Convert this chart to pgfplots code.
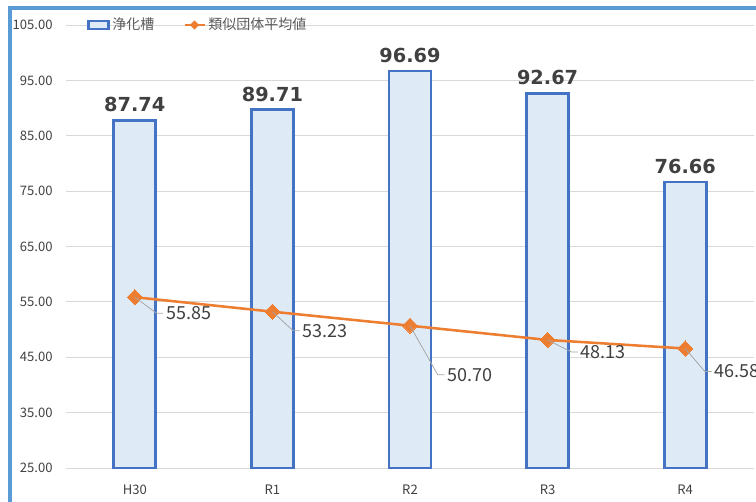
\documentclass[border=0pt]{standalone}
\usepackage{fontspec}
\setmainfont{Noto Sans CJK JP}
\newfontfamily\numfont{DejaVu Sans}
\usepackage{pgfplots}
\pgfplotsset{compat=1.18}

\definecolor{barblue}{HTML}{4472C4}
\definecolor{barfill}{HTML}{DEEBF7}
\definecolor{lineorange}{HTML}{ED7D31}
\definecolor{gridgray}{HTML}{D9D9D9}
\definecolor{framecol}{HTML}{5B9BD5}
\definecolor{labgray}{HTML}{404040}
\definecolor{leggray}{HTML}{595959}
\definecolor{leadgray}{HTML}{A6A6A6}

% data label with leader line: x, y, dx, dy, text
\newcommand{\lbl}[5]{%
  \draw[leadgray, line width=0.6pt] (axis cs:#1,#2) -- ([xshift=#3-7pt, yshift=#4]axis cs:#1,#2)
    -- ([xshift=#3-2pt, yshift=#4]axis cs:#1,#2);
  \node[anchor=west, inner sep=0pt, text=labgray, font=\fontsize{13.5}{15}\selectfont]
    at ([xshift=#3, yshift=#4]axis cs:#1,#2) {#5};
}

\begin{document}
\begin{tikzpicture}
\useasboundingbox (0,0) rectangle (567pt,375.75pt);
\clip (0,0) rectangle (567pt,375.75pt);
\begin{axis}[
  scale only axis,
  width=516pt, height=332.25pt,
  at={(49.5pt,24.75pt)}, anchor=south west,
  xmin=-0.5, xmax=4.5, ymin=25, ymax=105,
  xtick={0,1,2,3,4}, xticklabels={H30,R1,R2,R3,R4},
  ytick={25,35,45,55,65,75,85,95,105},
  yticklabel style={/pgf/number format/fixed, /pgf/number format/fixed zerofill,
    /pgf/number format/precision=2},
  /pgf/number format/assume math mode=true,
  tick label style={font=\fontsize{9.8}{11}\selectfont, text=labgray},
  xticklabel style={yshift=-9pt},
  yticklabel style={xshift=-6.5pt},
  ymajorgrids, grid style={gridgray, line width=0.75pt},
  axis line style={draw=none},
  major tick length=0pt,
  clip mode=individual,
  legend columns=2,
  legend style={at={(0.025,1)}, anchor=west, draw=none, fill=none,
    font=\fontsize{10.5}{12}\selectfont, text=leggray,
    /tikz/every even column/.append style={column sep=20pt}},
]
  \addplot[ybar, bar width=31.5pt, draw=barblue, fill=barfill, line width=2.1pt,
    point meta=explicit symbolic, nodes near coords,
    nodes near coords style={font=\numfont\bfseries\fontsize{14.5}{16}\selectfont,
      text=labgray, anchor=base, yshift=6.5pt},
    legend image code/.code={\draw[draw=barblue, fill=barfill, line width=1.6pt]
      (0pt,-3pt) rectangle (15pt,3pt);}]
  coordinates {
    (0,87.74) [87.74]
    (1,89.71) [89.71]
    (2,96.69) [96.69]
    (3,92.67) [92.67]
    (4,76.66) [76.66]
  };
  \addlegendentry{浄化槽}

  \addplot[lineorange, line width=1.9pt, mark=square*, mark size=4pt,
    mark options={rotate=45, fill=lineorange, draw=lineorange, line width=0pt},
    legend image code/.code={\draw[lineorange, line width=1.5pt] (0pt,0pt) -- (15pt,0pt);
      \fill[lineorange, rotate around={45:(7.5pt,0pt)}] (6pt,-1.5pt) rectangle (9pt,1.5pt);}]
  coordinates {
    (0,55.85)
    (1,53.23)
    (2,50.70)
    (3,48.13)
    (4,46.58)
  };
  \addlegendentry{類似団体平均値}

  \lbl{0}{55.85}{23.25pt}{-12pt}{55.85}
  \lbl{1}{53.23}{22.5pt}{-14.25pt}{53.23}
  \lbl{2}{50.70}{27.75pt}{-36.75pt}{50.70}
  \lbl{3}{48.13}{24.75pt}{-9pt}{48.13}
  \lbl{4}{46.58}{21.75pt}{-17.25pt}{46.58}
\end{axis}
\draw[framecol, line width=2.4pt, line join=miter] (7.5pt,-10pt) -- (7.5pt,369.75pt) -- (600pt,369.75pt);
\end{tikzpicture}
\end{document}
